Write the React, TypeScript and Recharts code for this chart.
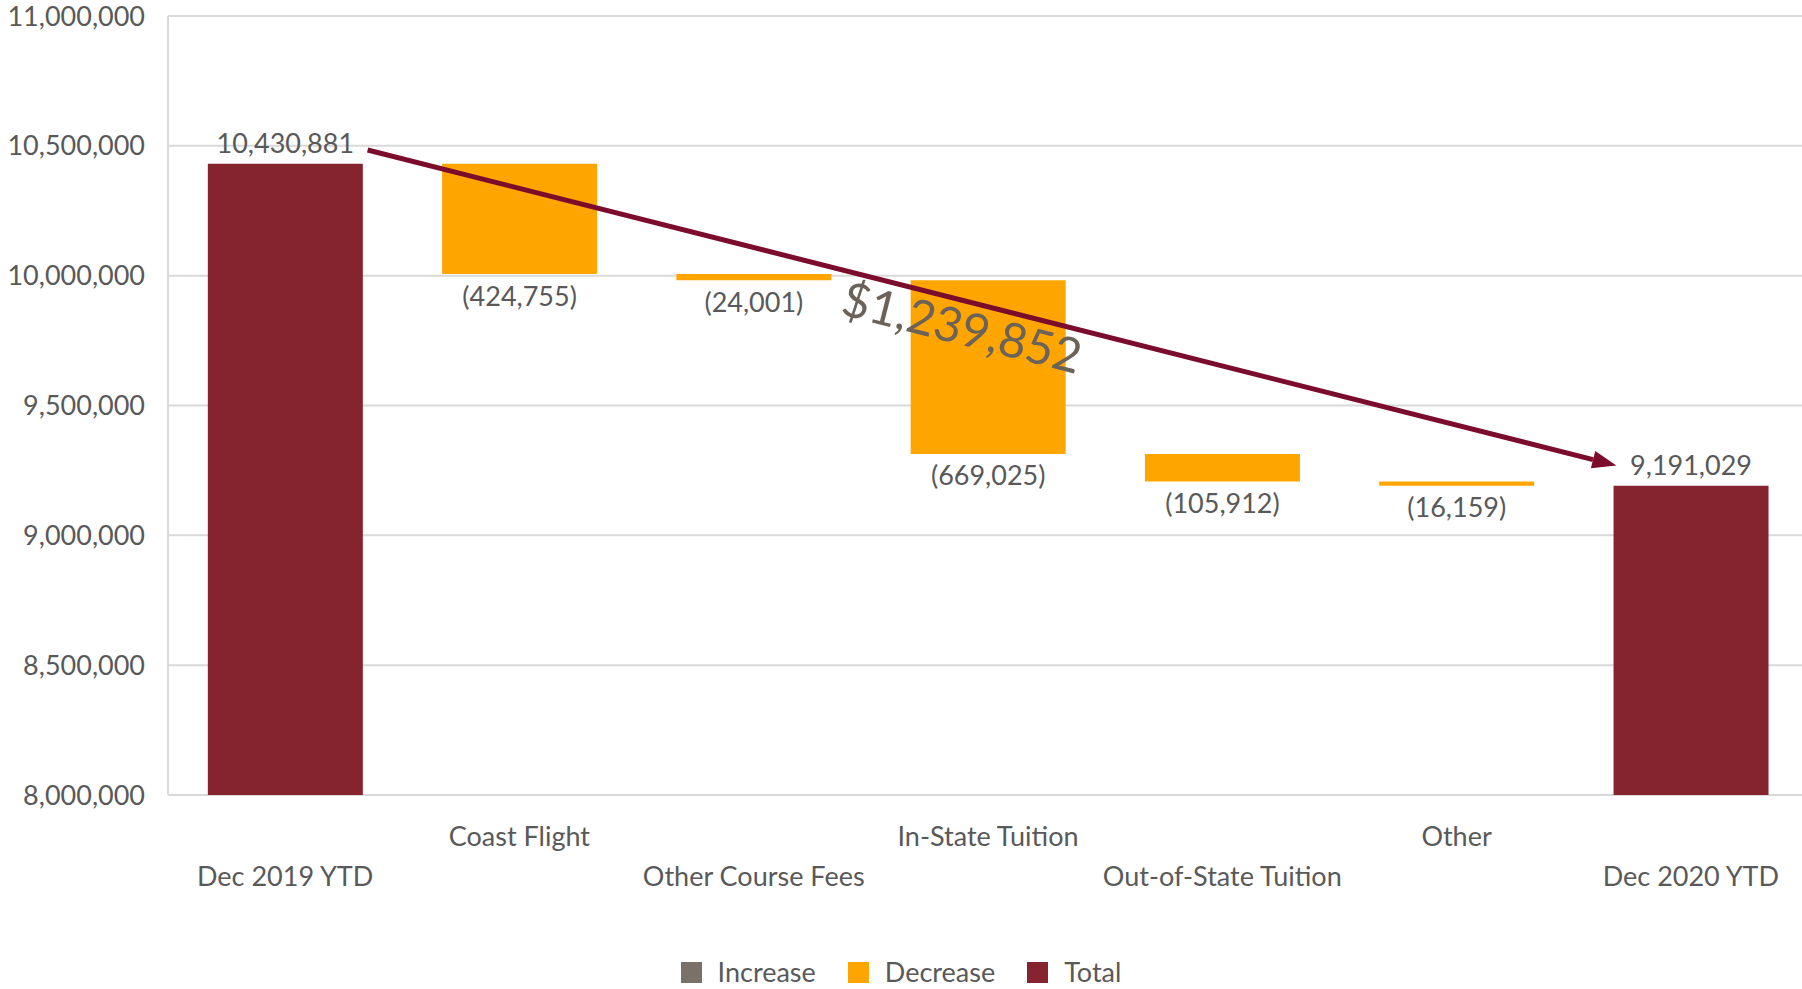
import React from "react";
import { BarChart, Bar, XAxis, YAxis, CartesianGrid, Cell, LabelList, ReferenceLine } from "recharts";

const CATEGORIES = [
  "Dec 2019 YTD",
  "Coast Flight",
  "Other Course Fees",
  "In-State Tuition",
  "Out-of-State Tuition",
  "Other",
  "Dec 2020 YTD",
];
const VALUES = [10430881, -424755, -24001, -669025, -105912, -16159, 9191029];
const KINDS = ["total", "decrease", "decrease", "decrease", "decrease", "decrease", "total"];
const Y_TICKS = [8000000, 8500000, 9000000, 9500000, 10000000, 10500000, 11000000];
const LEGEND_ITEMS = ["Increase", "Decrease", "Total"];
// arrow annotation: anchored on first/last category, shift in category widths
const ARROW = [
  { x: "Dec 2019 YTD", y: 10484000, shift: 0.352 },
  { x: "Dec 2020 YTD", y: 9269000, shift: -0.318 },
];
const ARROW_LABEL = "$1,239,852";

const COLORS: Record<string, string> = {
  Increase: "#7a7268",
  Decrease: "#ffa500",
  Total: "#85232f",
  increase: "#7a7268",
  decrease: "#ffa500",
  total: "#85232f",
};
const FONT = "Lato, 'Open Sans', sans-serif";
const TEXT = "#595959";
const FS = 27;

const fmt = (v: number) => v.toLocaleString("en-US");

// build waterfall rows as [low, high] ranges
let running = 0;
const data = CATEGORIES.map((name, i) => {
  const v = VALUES[i];
  const kind = KINDS[i];
  let range: number[];
  if (kind === "total") {
    running = v;
    range = [Y_TICKS[0], v];
  } else {
    const start = running;
    running += v;
    range = [Math.min(start, running), Math.max(start, running)];
  }
  return { name, kind, value: v, range };
});

const renderLabel = (props: any) => {
  const { x, y, width, height, index } = props;
  const row = data[index];
  if (!row) return null;
  const top = Math.min(y, y + height);
  const bottom = Math.max(y, y + height);
  const cx = x + width / 2;
  const common = { x: cx, textAnchor: "middle" as const, dy: "0.35em", fill: TEXT, fontSize: FS, fontFamily: FONT };
  if (row.kind === "total") {
    return <text {...common} y={top - 20}>{fmt(row.value)}</text>;
  }
  return <text {...common} y={bottom + 22}>({fmt(Math.abs(row.value))})</text>;
};

const CategoryTick = (props: any) => {
  const { x, y, payload, index } = props;
  const off = index % 2 === 1 ? 42 : 82;
  return (
    <text x={x} y={y + off} dy="0.35em" textAnchor="middle" fill={TEXT} fontSize={FS} fontFamily={FONT}>
      {payload.value}
    </text>
  );
};

const ArrowShape = (p: any) => {
  const band = (p.x2 - p.x1) / (CATEGORIES.length - 1);
  const x1 = p.x1 + ARROW[0].shift * band;
  const x2 = p.x2 + ARROW[1].shift * band;
  const { y1, y2 } = p;
  const ang = Math.atan2(y2 - y1, x2 - x1);
  const deg = (ang * 180) / Math.PI;
  const head = 24;
  const half = 9;
  const bx = x2 - head * Math.cos(ang);
  const by = y2 - head * Math.sin(ang);
  const pts = `${x2},${y2} ${bx - half * Math.sin(ang)},${by + half * Math.cos(ang)} ${bx + half * Math.sin(ang)},${by - half * Math.cos(ang)}`;
  const mx = (x1 + x2) / 2 - 30;
  const my = (y1 + y2) / 2 + 20;
  return (
    <g>
      <line x1={x1} y1={y1} x2={bx} y2={by} stroke="#7b0c2c" strokeWidth={5} />
      <polygon points={pts} fill="#7b0c2c" />
      <text
        x={mx}
        y={my}
        dy="0.35em"
        textAnchor="middle"
        transform={`rotate(${deg} ${mx} ${my})`}
        fill="#6b625a"
        fontSize={48}
        fontFamily={FONT}
      >
        {ARROW_LABEL}
      </text>
    </g>
  );
};

export default function App() {
  return (
    <div style={{ position: "fixed", left: 0, top: 0, width: 1802, height: 989, overflow: "hidden", background: "#fff" }}>
      <BarChart
        width={1808}
        height={989}
        data={data}
        margin={{ top: 16, right: 0, left: 0, bottom: 0 }}
        barCategoryGap="17%"
      >
        <CartesianGrid vertical={false} stroke="#d9d9d9" strokeWidth={2} />
        <XAxis
          dataKey="name"
          height={194}
          axisLine={false}
          tickLine={false}
          tickSize={0}
          tickMargin={0}
          interval={0}
          tick={<CategoryTick />}
        />
        <YAxis
          width={168}
          domain={[Y_TICKS[0], Y_TICKS[Y_TICKS.length - 1]]}
          ticks={Y_TICKS}
          allowDataOverflow
          axisLine={{ stroke: "#d9d9d9", strokeWidth: 2 }}
          tickLine={false}
          tickSize={0}
          tickMargin={23}
          tickFormatter={fmt}
          tick={{ fill: TEXT, fontSize: FS, fontFamily: FONT }}
        />
        <Bar dataKey="range" isAnimationActive={false}>
          {data.map((d) => (
            <Cell key={d.name} fill={COLORS[d.kind]} />
          ))}
          <LabelList dataKey="range" content={renderLabel} />
        </Bar>
        <ReferenceLine
          segment={ARROW.map(({ x, y }) => ({ x, y }))}
          ifOverflow="visible"
          shape={ArrowShape}
        />
      </BarChart>
      <div
        style={{
          position: "absolute",
          top: 955,
          left: 0,
          width: 1802,
          display: "flex",
          justifyContent: "center",
          gap: 32,
          fontFamily: FONT,
          fontSize: FS,
          lineHeight: "34px",
          color: TEXT,
        }}
      >
        {LEGEND_ITEMS.map((name) => (
          <div key={name} style={{ display: "flex", alignItems: "center", gap: 16 }}>
            <span style={{ display: "inline-block", width: 21, height: 21, background: COLORS[name] }} />
            <span>{name}</span>
          </div>
        ))}
      </div>
    </div>
  );
}
